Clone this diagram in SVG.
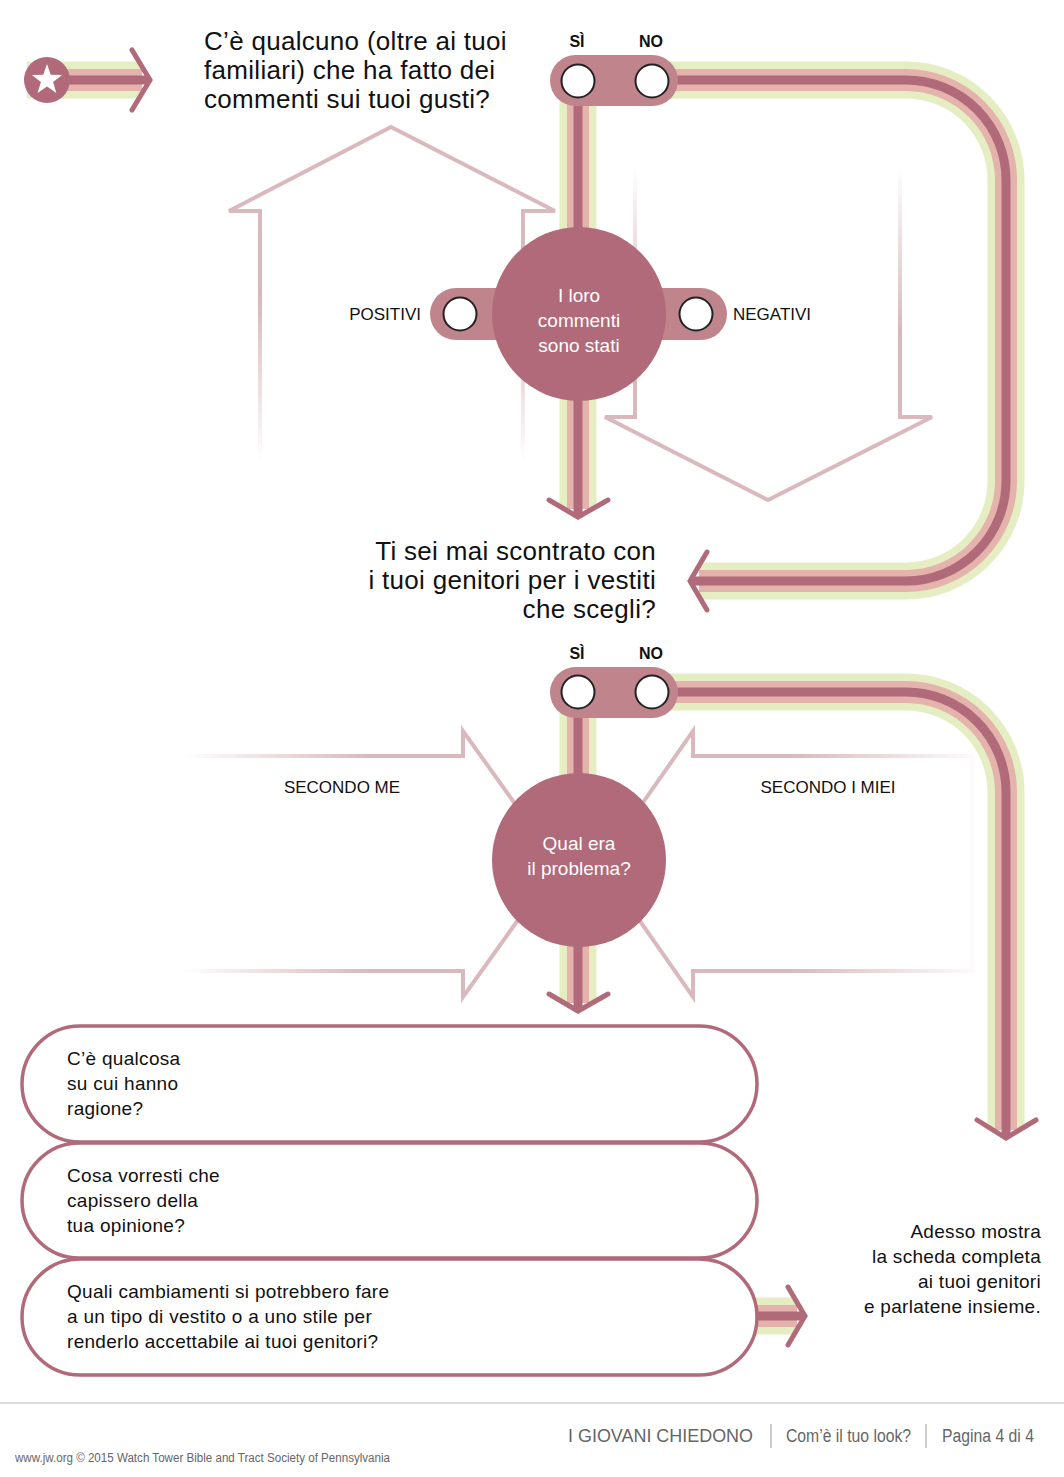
<svg xmlns="http://www.w3.org/2000/svg" width="1064" height="1477" viewBox="0 0 1064 1477">
<defs>
<style>
.t{font-family:"Liberation Sans",Arial,sans-serif;fill:#111}
.q{font-size:26px;letter-spacing:0.3px}
.lab{font-size:17px}
.yn{font-size:16px;font-weight:bold;text-anchor:middle}
.ct{font-size:19px;fill:#fff;text-anchor:middle}
.bx{font-size:19px;letter-spacing:0.3px}
.g{fill:none;stroke:#e5edc3;stroke-width:37}
.p{fill:none;stroke:#e4b3ab;stroke-width:22}
.d{fill:none;stroke:#b06a79;stroke-width:9}
.chev{fill:none;stroke:#b06a79;stroke-width:5;stroke-linecap:round;stroke-linejoin:miter}
.pill{fill:#c0848c}
.node{fill:#b06a79}
.rb{fill:#fff;stroke:#222;stroke-width:2}
.box{fill:#fff;stroke:#b06a79;stroke-width:3.5}
.ol{fill:none;stroke-width:4;stroke-linejoin:miter}
.ft{font-family:"Liberation Sans Narrow","Liberation Sans",Arial,sans-serif;fill:#666}
</style>
<linearGradient id="gUp" gradientUnits="userSpaceOnUse" x1="0" y1="300" x2="0" y2="462">
<stop offset="0" stop-color="#d9b9bd" stop-opacity="1"/>
<stop offset="1" stop-color="#d9b9bd" stop-opacity="0"/>
</linearGradient>
<linearGradient id="gDown" gradientUnits="userSpaceOnUse" x1="0" y1="166" x2="0" y2="330">
<stop offset="0" stop-color="#d9b9bd" stop-opacity="0"/>
<stop offset="1" stop-color="#d9b9bd" stop-opacity="1"/>
</linearGradient>
<linearGradient id="gLeft" gradientUnits="userSpaceOnUse" x1="183" y1="0" x2="370" y2="0">
<stop offset="0" stop-color="#d9b9bd" stop-opacity="0"/>
<stop offset="1" stop-color="#d9b9bd" stop-opacity="1"/>
</linearGradient>
<linearGradient id="gRight" gradientUnits="userSpaceOnUse" x1="790" y1="0" x2="975" y2="0">
<stop offset="0" stop-color="#d9b9bd" stop-opacity="1"/>
<stop offset="1" stop-color="#d9b9bd" stop-opacity="0.05"/>
</linearGradient>
</defs>
<rect width="1064" height="1477" fill="#fff"/>

<g id="outline-arrows">
<path class="ol" stroke="url(#gUp)" d="M260,462 V211 H229 L391,127 L555,211 H523 V462"/>
<path class="ol" stroke="url(#gDown)" d="M635,166 V417 H605 L768,500 L932,417 H900 V166"/>
<path class="ol" stroke="url(#gLeft)" d="M183,756 H463 V731 L558,864 L463,997 V971 H183"/>
<path class="ol" stroke="url(#gRight)" d="M972,971 H693 V997 L600,864 L693,731 V756 H972 V971"/>
</g>

<g id="connectors">
<g>
<path class="g" d="M27,80 H142"/><path class="p" d="M27,80 H142"/><path class="d" d="M27,80 H147"/>
<polyline class="chev" points="132,50 150,80 132,110"/>
</g>
<g>
<path class="g" d="M650,80 H906 A100,100 0 0 1 1006,180 V481 A100,100 0 0 1 906,581 H699"/>
<path class="p" d="M650,80 H906 A100,100 0 0 1 1006,180 V481 A100,100 0 0 1 906,581 H699"/>
<path class="d" d="M650,80 H906 A100,100 0 0 1 1006,180 V481 A100,100 0 0 1 906,581 H693"/>
<polyline class="chev" points="707,552 690,581 707,610"/>
</g>
<g>
<path class="g" d="M578,80 V509"/><path class="p" d="M578,80 V509"/><path class="d" d="M578,80 V515"/>
<polyline class="chev" points="549,500 578,517 608,500"/>
</g>
<g>
<path class="g" d="M650,692 H906 A100,100 0 0 1 1006,792 V1130"/>
<path class="p" d="M650,692 H906 A100,100 0 0 1 1006,792 V1130"/>
<path class="d" d="M650,692 H906 A100,100 0 0 1 1006,792 V1136"/>
<polyline class="chev" points="977,1120 1006,1138 1036,1120"/>
</g>
<g>
<path class="g" d="M578,692 V1003"/><path class="p" d="M578,692 V1003"/><path class="d" d="M578,692 V1009"/>
<polyline class="chev" points="549,994 578,1011 608,994"/>
</g>
<g>
<path class="g" d="M745,1316 H797"/><path class="p" d="M745,1316 H797"/><path class="d" d="M745,1316 H803"/>
<polyline class="chev" points="788,1287 805,1316 788,1345"/>
</g>
</g>

<g id="start">
<circle class="node" cx="47" cy="80" r="23"/>
<polygon fill="#fff" points="47,64 50.76,74.82 62.22,75.06 53.09,81.98 56.4,92.94 47,86.4 37.6,92.94 40.91,81.98 31.78,75.06 43.24,74.82"/>
</g>

<g id="q1">
<text class="t q" x="204" y="50">C’è qualcuno (oltre ai tuoi</text>
<text class="t q" x="204" y="79">familiari) che ha fatto dei</text>
<text class="t q" x="204" y="108">commenti sui tuoi gusti?</text>
</g>

<g id="toggle1">
<rect class="pill" x="550" y="55" width="128" height="51" rx="25.5"/>
<circle class="rb" cx="578" cy="81" r="16.5"/>
<circle class="rb" cx="652" cy="81" r="16.5"/>
<text class="t yn" x="577" y="47">SÌ</text>
<text class="t yn" x="651" y="47">NO</text>
</g>

<g id="comments-node">
<rect class="pill" x="430" y="288" width="100" height="52" rx="26"/>
<rect class="pill" x="628" y="288" width="99" height="52" rx="26"/>
<circle class="node" cx="579" cy="314" r="87"/>
<circle class="rb" cx="460" cy="314" r="16.5"/>
<circle class="rb" cx="696" cy="314" r="16.5"/>
<text class="t ct" x="579" y="302">I loro</text>
<text class="t ct" x="579" y="327">commenti</text>
<text class="t ct" x="579" y="352">sono stati</text>
<text class="t lab" x="421" y="320" text-anchor="end">POSITIVI</text>
<text class="t lab" x="733" y="320">NEGATIVI</text>
</g>

<g id="q2">
<text class="t q" x="656" y="560" text-anchor="end">Ti sei mai scontrato con</text>
<text class="t q" x="656" y="589" text-anchor="end">i tuoi genitori per i vestiti</text>
<text class="t q" x="656" y="618" text-anchor="end">che scegli?</text>
</g>

<g id="toggle2">
<rect class="pill" x="550" y="667" width="128" height="51" rx="25.5"/>
<circle class="rb" cx="578" cy="692" r="16.5"/>
<circle class="rb" cx="652" cy="692" r="16.5"/>
<text class="t yn" x="577" y="659">SÌ</text>
<text class="t yn" x="651" y="659">NO</text>
</g>

<g id="problem-node">
<circle class="node" cx="579" cy="860" r="87"/>
<text class="t ct" x="579" y="850">Qual era</text>
<text class="t ct" x="579" y="875">il problema?</text>
<text class="t lab" x="342" y="793" text-anchor="middle">SECONDO ME</text>
<text class="t lab" x="828" y="793" text-anchor="middle">SECONDO I MIEI</text>
</g>

<g id="box1">
<rect class="box" x="22" y="1026" width="735" height="116" rx="58"/>
<text class="t bx" x="67" y="1065">C’è qualcosa</text>
<text class="t bx" x="67" y="1090">su cui hanno</text>
<text class="t bx" x="67" y="1115">ragione?</text>
</g>
<g id="box2">
<rect class="box" x="22" y="1143" width="735" height="115" rx="57.5"/>
<text class="t bx" x="67" y="1182">Cosa vorresti che</text>
<text class="t bx" x="67" y="1207">capissero della</text>
<text class="t bx" x="67" y="1232">tua opinione?</text>
</g>
<g id="box3">
<rect class="box" x="22" y="1259" width="735" height="116" rx="58"/>
<text class="t bx" x="67" y="1298">Quali cambiamenti si potrebbero fare</text>
<text class="t bx" x="67" y="1323">a un tipo di vestito o a uno stile per</text>
<text class="t bx" x="67" y="1348">renderlo accettabile ai tuoi genitori?</text>
</g>

<g id="final">
<text class="t bx" x="1041" y="1238" text-anchor="end">Adesso mostra</text>
<text class="t bx" x="1041" y="1263" text-anchor="end">la scheda completa</text>
<text class="t bx" x="1041" y="1288" text-anchor="end">ai tuoi genitori</text>
<text class="t bx" x="1041" y="1313" text-anchor="end">e parlatene insieme.</text>
</g>

<g id="footer">
<line x1="0" y1="1403" x2="1064" y2="1403" stroke="#cfcfcf" stroke-width="1.5"/>
<text class="t" x="568" y="1442" style="font-size:17.5px;fill:#666" textLength="185" lengthAdjust="spacingAndGlyphs">I GIOVANI CHIEDONO</text>
<line x1="771" y1="1424" x2="771" y2="1448" stroke="#999" stroke-width="1"/>
<text class="ft" x="786" y="1442" style="font-size:18px" textLength="125" lengthAdjust="spacingAndGlyphs">Com’è il tuo look?</text>
<line x1="926" y1="1424" x2="926" y2="1448" stroke="#999" stroke-width="1"/>
<text class="ft" x="942" y="1442" style="font-size:18px" textLength="92" lengthAdjust="spacingAndGlyphs">Pagina 4 di 4</text>
<text class="ft" x="15" y="1462" style="font-size:12.5px" textLength="375" lengthAdjust="spacingAndGlyphs">www.jw.org © 2015 Watch Tower Bible and Tract Society of Pennsylvania</text>
</g>
</svg>
